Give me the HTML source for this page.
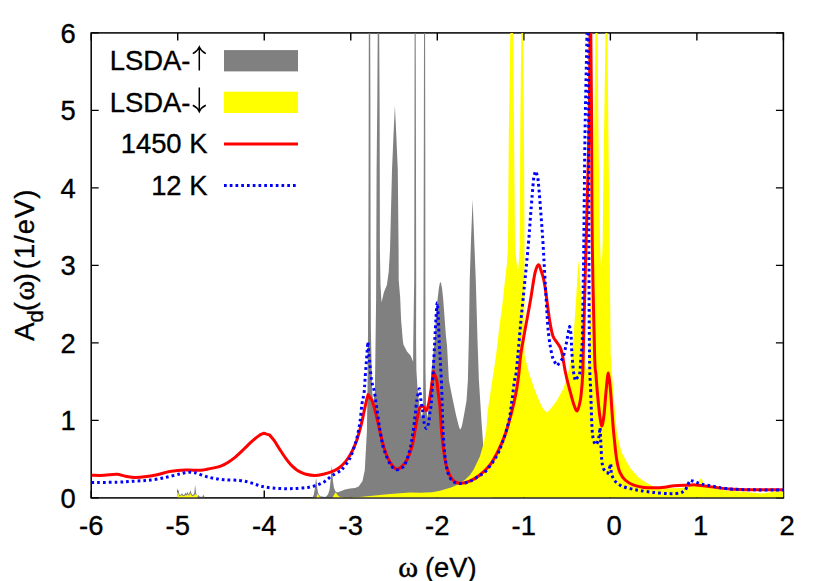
<!DOCTYPE html>
<html><head><meta charset="utf-8"><title>chart</title>
<style>html,body{margin:0;padding:0;background:#fff}svg{display:block}</style></head>
<body>
<svg width="830" height="581" viewBox="0 0 830 581">
<rect width="830" height="581" fill="#fff"/>
<defs><clipPath id="c"><rect x="91.2" y="32.9" width="692.20" height="464.40"/></clipPath></defs>
<path d="M91.20,497.9v-7.5M91.20,32.9v7.5M177.72,497.9v-7.5M177.72,32.9v7.5M264.25,497.9v-7.5M264.25,32.9v7.5M350.77,497.9v-7.5M350.77,32.9v7.5M437.30,497.9v-7.5M437.30,32.9v7.5M523.82,497.9v-7.5M523.82,32.9v7.5M610.35,497.9v-7.5M610.35,32.9v7.5M696.88,497.9v-7.5M696.88,32.9v7.5M783.40,497.9v-7.5M783.40,32.9v7.5M91.2,497.90h7.5M783.4,497.90h-7.5M91.2,420.40h7.5M783.4,420.40h-7.5M91.2,342.90h7.5M783.4,342.90h-7.5M91.2,265.40h7.5M783.4,265.40h-7.5M91.2,187.90h7.5M783.4,187.90h-7.5M91.2,110.40h7.5M783.4,110.40h-7.5M91.2,32.90h7.5M783.4,32.90h-7.5" stroke="#000" stroke-width="1.4" fill="none"/>
<rect x="91.2" y="32.9" width="692.1999999999999" height="465.0" fill="none" stroke="#000" stroke-width="1.5"/>
<g clip-path="url(#c)">
<path d="M176.9,497.9 L177.1,492.0 L177.7,488.2 L178.4,492.0 L179.9,495.2 L181.0,494.6 L182.0,493.3 L183.0,494.6 L183.9,495.2 L184.8,494.0 L185.7,492.6 L186.5,494.2 L187.5,491.5 L188.2,493.5 L188.9,494.6 L189.7,492.5 L190.4,490.0 L191.2,492.8 L192.2,495.0 L193.5,494.6 L194.3,493.0 L194.8,488.0 L195.1,485.0 L195.5,488.0 L196.2,493.6 L197.6,496.5 L198.7,494.9 L199.7,496.8 L202.5,496.8 L203.4,494.5 L204.4,496.8 L205.0,497.9Z M312.3,497.9 L313.8,494.5 L314.8,489.0 L315.5,482.5 L316.1,477.6 L316.7,482.5 L317.4,489.0 L318.3,493.5 L320.0,496.3 L325.5,497.0 L328.0,494.5 L329.6,489.5 L330.6,480.5 L331.2,471.5 L331.7,466.0 L332.3,471.5 L332.9,480.5 L333.9,487.5 L335.2,491.0 L337.0,492.4 L340.0,491.4 L345.0,489.4 L350.0,488.5 L355.0,488.0 L358.7,486.6 L362.5,481.0 L364.8,470.0 L366.9,431.0 L367.5,390.0 L368.0,330.0 L368.4,250.0 L368.6,170.0 L368.7,100.0 L368.8,33.0 L370.2,33.0 L370.4,100.0 L370.6,250.0 L370.9,330.0 L372.1,390.0 L373.2,402.0 L374.9,392.0 L375.7,330.0 L376.1,300.0 L376.3,250.0 L376.6,170.0 L377.3,100.0 L377.7,33.0 L379.2,33.0 L379.6,100.0 L379.8,170.0 L379.9,250.0 L380.5,285.0 L381.5,302.4 L383.9,292.2 L386.9,285.0 L388.7,271.7 L390.0,250.0 L392.0,170.0 L393.5,135.0 L394.9,105.5 L396.3,135.0 L397.8,170.0 L398.6,250.0 L398.7,280.0 L400.2,298.0 L401.1,320.0 L402.8,340.0 L403.4,344.4 L407.0,351.4 L410.7,355.7 L412.8,361.0 L413.1,362.0 L413.3,340.0 L413.8,305.0 L414.2,280.0 L414.4,170.0 L414.5,100.0 L414.6,33.0 L415.7,33.0 L416.0,170.0 L416.2,280.0 L416.1,340.0 L416.4,370.0 L417.5,388.0 L419.5,406.0 L422.0,418.0 L423.1,408.0 L423.2,390.0 L423.5,280.0 L423.8,150.0 L424.0,33.0 L425.1,33.0 L425.3,150.0 L425.4,280.0 L425.5,370.0 L426.1,406.0 L427.5,418.0 L429.1,406.0 L431.5,370.0 L434.8,340.0 L435.8,318.0 L437.6,299.0 L438.9,288.0 L439.8,283.2 L440.4,282.0 L441.1,283.2 L442.0,288.0 L443.2,299.0 L446.0,336.8 L447.0,345.0 L448.9,380.0 L450.8,390.0 L453.0,400.7 L456.0,415.0 L458.4,424.5 L459.5,428.3 L460.3,429.6 L461.1,428.3 L462.2,424.5 L464.0,415.0 L466.5,400.7 L467.9,380.0 L469.0,330.0 L469.7,280.0 L471.0,240.0 L472.6,199.4 L474.2,240.0 L475.8,280.0 L477.5,340.0 L478.9,380.0 L481.5,421.3 L483.0,442.0 L485.0,470.0 L488.0,490.0 L492.0,497.9Z" fill="#808080"/>
<path d="M177.1,497.9 L177.4,491.8 L178.3,493.5 L179.5,496.2 L181.7,495.2 L183.9,496.3 L185.7,495.0 L186.6,495.6 L187.5,494.2 L188.9,495.8 L190.4,493.4 L191.3,495.0 L192.2,496.2 L194.0,495.6 L195.0,494.4 L195.8,493.9 L197.2,495.2 L198.0,497.9Z M316.3,497.9 L317.5,493.4 L319.0,496.0 L320.8,497.9Z M332.3,497.9 L334.0,495.0 L335.6,492.3 L337.5,495.0 L339.5,496.8 L345.0,497.4 L360.0,496.9 L370.0,496.1 L380.0,495.1 L390.0,494.1 L400.0,493.3 L410.0,492.5 L420.0,492.8 L432.0,492.2 L440.0,490.8 L451.0,487.5 L458.0,484.5 L465.4,479.6 L470.0,475.0 L473.7,469.5 L479.9,456.4 L483.2,445.0 L486.1,431.6 L487.6,411.8 L489.2,400.7 L492.3,380.0 L493.3,374.0 L496.1,355.0 L499.0,330.0 L502.7,301.8 L505.0,280.0 L506.9,264.0 L508.0,245.0 L508.8,135.0 L510.3,33.0 L513.1,33.0 L514.1,135.0 L515.0,245.0 L516.5,262.0 L517.9,271.5 L519.2,258.0 L519.8,245.0 L520.2,135.0 L521.3,33.0 L523.2,33.0 L524.0,135.0 L524.5,245.0 L524.5,355.0 L529.2,374.0 L535.9,392.9 L540.0,402.5 L543.0,408.5 L545.0,411.0 L546.6,411.9 L548.3,411.3 L551.0,408.3 L555.8,402.3 L563.3,389.0 L568.0,374.0 L572.0,355.0 L574.0,330.0 L576.0,300.0 L577.5,275.0 L578.5,260.0 L579.8,275.0 L581.3,300.0 L583.0,335.0 L585.0,360.0 L586.8,371.0 L588.3,360.0 L589.5,330.0 L590.5,300.0 L592.0,270.0 L593.3,245.0 L594.2,135.0 L595.5,33.0 L597.6,33.0 L598.5,135.0 L599.4,200.0 L600.2,245.0 L600.8,261.0 L601.3,267.0 L601.9,261.0 L602.6,245.0 L603.1,200.0 L604.0,135.0 L605.5,33.0 L607.5,33.0 L608.4,135.0 L609.7,245.0 L610.7,355.0 L613.7,397.0 L616.8,432.0 L621.4,452.0 L630.2,468.0 L638.0,477.0 L647.5,483.5 L655.0,487.0 L665.0,488.5 L680.0,488.0 L688.0,487.2 L695.0,485.5 L696.8,484.8 L698.4,482.3 L699.8,479.4 L700.9,478.2 L702.0,479.4 L703.4,483.0 L705.0,486.0 L706.5,487.2 L711.0,488.2 L726.4,490.5 L745.7,492.0 L755.0,493.0 L761.0,493.6 L768.0,492.8 L774.6,491.6 L783.5,491.0 L783.5,497.9Z" fill="#ffff00"/>
<path d="M91.5,475.3 C93.6,475.3 100.1,475.5 104.3,475.3 C108.5,475.1 113.3,474.1 116.8,474.3 C120.3,474.5 122.5,475.8 125.5,476.3 C128.6,476.8 131.6,477.4 135.1,477.4 C138.6,477.4 142.8,477.0 146.7,476.5 C150.5,476.0 154.3,475.3 158.2,474.5 C162.0,473.7 165.3,472.3 169.8,471.6 C174.3,470.9 180.1,470.3 185.2,470.1 C190.3,469.9 197.0,470.3 200.6,470.2 C204.2,470.1 204.7,469.7 206.9,469.3 C209.1,468.9 211.5,468.4 213.8,467.9 C216.1,467.4 218.4,467.0 220.7,466.1 C223.0,465.2 225.2,464.1 227.5,462.7 C229.8,461.3 232.1,459.7 234.4,457.9 C236.7,456.1 239.0,453.9 241.3,451.7 C243.6,449.5 245.9,447.0 248.2,444.8 C250.5,442.6 253.3,440.2 255.1,438.6 C256.9,437.0 257.8,436.3 259.2,435.4 C260.6,434.5 262.1,434.0 263.6,433.3 C265.6,433.9 267.6,434.4 269.6,435.0 C271.2,437.0 272.7,438.5 274.4,440.9 C276.1,443.3 278.1,446.8 279.9,449.6 C281.7,452.4 283.6,455.4 285.4,457.9 C287.2,460.4 289.1,462.9 290.9,464.8 C292.7,466.8 294.9,468.4 296.4,469.6 C297.9,470.8 298.4,471.0 300.0,471.8 C301.6,472.6 303.6,473.6 306.0,474.2 C308.4,474.8 311.7,475.4 314.6,475.4 C317.5,475.4 320.4,474.8 323.3,474.2 C326.2,473.6 329.4,472.8 332.0,471.7 C334.6,470.6 336.9,469.4 339.2,467.7 C341.4,466.0 343.5,464.0 345.5,461.6 C347.5,459.2 349.2,456.8 351.0,453.4 C352.8,450.0 354.8,445.8 356.5,441.0 C358.2,436.2 359.9,429.9 361.3,424.4 C362.7,418.9 363.9,412.0 364.8,407.9 C365.7,403.8 366.1,402.2 366.6,400.0 C367.2,397.8 367.6,396.4 368.1,394.6 C368.8,395.7 369.6,396.9 370.3,398.0 C371.0,399.1 371.5,398.9 372.4,401.5 C373.3,404.1 374.6,408.4 375.8,413.4 C377.1,418.4 378.5,425.6 379.9,431.3 C381.3,437.1 382.7,443.3 384.1,447.9 C385.5,452.5 386.7,455.8 388.2,458.9 C389.7,462.0 391.5,464.7 393.0,466.4 C394.5,468.1 395.7,469.2 397.2,469.2 C398.7,469.2 400.3,468.1 402.0,466.4 C403.7,464.7 405.9,462.0 407.5,458.9 C409.1,455.8 410.6,451.0 411.6,447.9 C412.6,444.8 412.6,444.3 413.4,440.0 C414.2,435.7 415.5,427.2 416.5,422.0 C417.5,416.8 418.5,411.3 419.5,408.6 C420.5,405.9 421.7,406.1 422.5,406.0 C423.3,405.9 423.8,407.3 424.5,408.0 C425.2,408.7 425.9,411.4 426.7,410.4 C427.4,409.4 428.3,405.4 429.0,402.0 C429.7,398.6 430.4,393.7 431.0,390.0 C431.6,386.3 432.0,383.1 432.4,380.0 C432.8,376.9 433.2,374.4 433.6,371.6 C434.2,373.1 434.8,374.4 435.3,376.0 C435.9,377.6 436.4,379.3 436.9,381.0 C437.4,385.4 437.9,390.0 438.4,394.2 C438.9,398.4 439.3,399.5 439.9,406.0 C440.4,412.5 440.9,424.2 441.7,433.0 C442.5,441.8 443.8,452.2 444.8,458.5 C445.8,464.8 446.5,467.3 447.9,470.9 C449.3,474.5 450.9,478.1 453.0,480.2 C455.1,482.3 457.5,483.1 460.3,483.3 C463.1,483.5 466.3,482.6 469.6,481.2 C472.9,479.8 476.5,477.8 479.9,475.0 C483.3,472.2 487.1,468.8 490.2,464.7 C493.3,460.6 496.1,455.0 498.5,450.2 C500.9,445.4 502.6,441.6 504.7,435.8 C506.8,430.0 509.0,422.2 510.9,415.1 C512.8,408.0 514.7,399.8 516.0,392.9 C517.3,386.0 518.0,380.3 518.8,374.0 C519.6,367.7 519.7,362.3 520.7,355.0 C521.7,347.7 523.4,338.9 525.0,330.0 C526.6,321.1 528.6,311.2 530.2,301.8 C531.9,292.4 533.5,279.6 534.9,273.4 C536.3,267.2 537.4,265.3 538.4,264.8 C539.4,264.3 540.0,267.5 541.0,270.5 C542.0,273.5 542.9,274.5 544.4,282.9 C545.9,291.3 548.3,312.0 549.7,320.8 C551.1,329.6 551.6,332.1 552.9,335.9 C554.2,339.7 556.4,341.4 557.7,343.5 C559.0,345.6 559.7,346.3 560.5,348.2 C561.3,350.1 561.5,350.7 562.4,355.0 C563.3,359.3 564.4,367.7 565.8,374.0 C567.1,380.3 569.1,387.7 570.5,392.9 C571.9,398.1 572.9,402.0 574.0,405.0 C575.1,408.0 576.2,411.4 577.2,410.9 C578.2,410.4 579.3,405.0 580.0,402.0 C580.7,399.0 580.8,397.6 581.3,392.9 C581.8,388.2 582.4,380.3 582.7,374.0 C583.0,367.7 582.7,376.5 583.2,355.0 C583.8,333.5 585.0,281.7 586.0,245.0 C587.0,208.3 588.2,170.3 588.9,135.0 C589.6,99.7 589.8,50.0 590.0,33.0 M590.8,33.0 C590.9,50.0 591.5,99.7 591.7,135.0 C592.0,170.3 591.8,208.3 592.3,245.0 C592.8,281.7 594.0,333.5 594.6,355.0 C595.2,376.5 595.4,367.7 595.9,374.0 C596.4,380.3 596.8,386.6 597.4,392.9 C598.0,399.2 598.6,406.3 599.3,411.8 C600.0,417.3 600.8,425.5 601.6,426.0 C602.4,426.5 603.3,420.7 604.0,415.0 C604.7,409.3 605.3,399.0 606.0,392.0 C606.7,385.0 607.6,372.9 608.4,373.0 C609.2,373.1 610.1,386.4 610.7,392.9 C611.3,399.4 611.5,405.5 612.0,411.8 C612.5,418.1 612.9,424.5 613.5,430.8 C614.1,437.1 614.8,444.3 615.4,449.7 C616.0,455.1 616.5,459.2 617.3,463.0 C618.0,466.8 618.6,469.5 619.9,472.3 C621.2,475.1 622.8,477.9 625.1,480.0 C627.4,482.1 630.6,484.0 633.7,485.2 C636.9,486.4 640.8,487.0 644.0,487.4 C647.2,487.8 649.6,487.8 653.1,487.8 C656.6,487.8 661.2,487.6 664.7,487.2 C668.2,486.8 670.4,486.0 674.3,485.7 C678.1,485.4 684.3,485.4 687.8,485.3 C691.3,485.2 692.3,484.7 695.5,484.9 C698.7,485.1 703.6,485.9 707.1,486.3 C710.6,486.8 712.9,487.1 716.7,487.6 C720.6,488.1 725.4,488.8 730.2,489.1 C735.0,489.5 739.9,489.6 745.7,489.7 C751.5,489.8 758.6,489.7 764.9,489.7 C771.2,489.7 780.4,489.7 783.5,489.7" fill="none" stroke="#ff0000" stroke-width="3" stroke-linejoin="round"/>
<path d="M91.5,482.6 C95.7,482.5 109.5,482.4 116.8,482.2 C124.1,481.9 129.5,481.5 135.1,481.1 C140.7,480.8 145.4,480.7 150.5,480.1 C155.6,479.5 161.1,478.4 165.9,477.4 C170.7,476.4 176.2,474.8 179.4,474.0 C182.6,473.2 183.3,473.0 185.0,472.7 C186.7,472.4 188.1,472.3 189.6,472.3 C191.1,472.3 192.7,472.4 194.0,472.6 C195.3,472.8 195.8,472.8 197.5,473.4 C199.2,474.0 202.0,475.2 204.5,476.0 C207.0,476.8 209.1,477.4 212.3,478.0 C215.5,478.6 219.2,479.3 223.7,479.7 C228.2,480.1 234.9,479.9 239.5,480.4 C244.1,480.9 247.4,481.9 251.0,482.9 C254.6,483.9 257.5,485.3 261.1,486.2 C264.7,487.1 268.6,487.6 272.7,488.0 C276.8,488.4 281.6,488.6 285.7,488.7 C289.8,488.8 293.4,488.6 297.3,488.4 C301.2,488.1 305.5,487.8 308.9,487.2 C312.3,486.6 314.9,486.0 317.5,485.0 C320.1,484.0 322.4,482.9 324.8,481.4 C327.2,479.8 329.4,477.5 332.0,475.7 C334.6,473.9 338.9,471.8 340.7,470.6 C342.5,469.4 341.3,470.4 342.8,468.5 C344.3,466.6 347.8,462.3 349.6,458.9 C351.4,455.5 352.5,451.6 353.8,447.9 C355.1,444.2 356.2,441.2 357.2,436.8 C358.2,432.4 359.2,427.2 360.0,421.7 C360.8,416.2 361.3,408.6 362.0,403.8 C362.7,399.0 363.6,396.8 364.1,392.8 C364.6,388.8 364.6,385.5 365.0,380.0 C365.4,374.5 366.0,366.3 366.5,360.0 C367.0,353.7 367.4,348.0 367.9,342.0 C368.4,348.0 368.9,353.7 369.5,360.0 C370.1,366.3 370.7,374.7 371.5,380.0 C372.3,385.3 373.6,387.6 374.4,392.0 C375.2,396.4 375.7,400.9 376.5,406.5 C377.3,412.1 378.3,419.4 379.3,425.8 C380.3,432.2 381.6,440.2 382.7,445.1 C383.8,450.0 384.8,451.9 386.0,455.0 C387.2,458.1 388.8,461.8 390.0,464.0 C391.2,466.2 392.3,467.1 393.5,468.0 C394.7,468.9 395.9,469.7 397.2,469.7 C398.4,469.7 399.8,468.8 401.0,468.0 C402.2,467.2 403.3,468.0 404.7,465.1 C406.1,462.2 408.3,455.3 409.6,450.6 C410.9,445.9 411.5,441.6 412.3,436.8 C413.1,432.0 413.7,427.2 414.4,421.7 C415.1,416.2 415.9,407.8 416.4,403.8 C416.9,399.8 416.8,400.3 417.3,397.8 C417.8,395.3 418.9,388.4 419.5,388.8 C420.1,389.2 420.4,396.7 420.9,400.2 C421.4,403.7 422.0,406.4 422.5,410.0 C423.0,413.6 423.4,418.9 424.0,422.0 C424.6,425.1 425.6,428.6 426.4,428.6 C427.2,428.6 428.2,424.8 428.8,422.0 C429.4,419.2 429.6,414.8 430.0,412.0 C430.4,409.2 430.7,409.0 431.1,405.0 C431.5,401.0 431.9,395.0 432.3,388.2 C432.7,381.4 433.2,372.0 433.6,364.0 C434.0,356.0 434.4,347.7 434.8,340.0 C435.2,332.3 435.6,324.2 436.0,318.0 C436.4,311.8 436.8,302.7 437.2,302.7 C437.6,302.7 437.9,311.3 438.3,318.0 C438.7,324.7 438.9,335.3 439.3,343.0 C439.7,350.7 440.1,356.5 440.5,364.0 C440.9,371.5 441.4,380.5 441.7,388.2 C442.0,395.9 442.1,402.8 442.3,410.0 C442.5,417.2 442.7,424.2 443.1,431.6 C443.5,439.0 444.0,447.4 444.8,454.3 C445.6,461.2 446.5,468.4 447.9,472.9 C449.3,477.4 450.9,479.4 453.0,481.2 C455.1,483.0 457.5,483.4 460.3,483.5 C463.1,483.6 466.7,482.7 469.6,481.5 C472.6,480.3 475.2,478.3 478.0,476.5 C480.8,474.7 483.0,474.2 486.1,470.9 C489.2,467.5 493.6,461.2 496.4,456.4 C499.1,451.6 500.5,447.9 502.6,442.0 C504.7,436.1 507.2,428.2 508.8,421.3 C510.4,414.4 510.9,407.6 511.9,400.7 C512.9,393.8 513.9,384.4 514.6,380.0 C515.3,375.6 515.5,378.2 516.0,374.0 C516.5,369.8 517.1,364.0 517.9,355.0 C518.7,346.0 520.0,330.8 521.0,320.0 C522.0,309.2 522.8,302.5 524.0,290.0 C525.2,277.5 527.1,258.3 528.3,245.0 C529.5,231.7 530.1,220.7 531.0,210.0 C531.9,199.3 532.8,187.0 533.4,181.0 C534.0,175.0 534.2,175.6 534.6,174.0 C535.0,172.4 535.3,171.2 535.7,171.2 C536.1,171.2 536.4,172.4 536.8,174.0 C537.2,175.6 537.6,175.0 538.2,181.0 C538.8,187.0 539.8,199.3 540.6,210.0 C541.4,220.7 542.2,229.7 543.1,245.0 C544.0,260.3 545.4,286.9 546.3,301.8 C547.2,316.7 547.6,325.5 548.6,334.4 C549.6,343.3 550.9,350.4 552.0,355.1 C553.1,359.8 554.1,360.8 555.0,362.5 C555.9,364.2 556.5,364.6 557.3,365.6 C559.0,363.2 561.1,361.1 562.4,358.5 C563.7,355.9 564.3,352.9 565.0,350.0 C565.7,347.1 566.1,344.3 566.7,341.3 C567.3,338.3 567.9,334.3 568.4,331.8 C568.9,329.3 569.2,328.3 569.6,326.5 C570.1,329.1 570.6,330.2 571.0,334.4 C571.4,338.6 571.4,345.3 571.8,351.6 C572.2,357.9 573.0,367.5 573.6,372.3 C574.2,377.1 574.7,377.8 575.3,380.6 C575.9,379.7 576.3,379.1 577.0,378.0 C577.7,376.9 578.9,377.5 579.6,374.0 C580.3,370.5 580.5,362.5 581.0,356.8 C581.5,351.1 582.0,349.5 582.3,340.0 C582.6,330.5 582.8,315.8 583.0,300.0 C583.2,284.2 583.5,272.5 583.8,245.0 C584.1,217.5 584.5,170.3 585.0,135.0 C585.5,99.7 586.7,50.0 587.0,33.0 M588.5,33.0 C588.5,50.0 588.6,99.7 588.7,135.0 C588.8,170.3 588.8,208.3 588.9,245.0 C589.0,281.7 589.2,330.4 589.5,355.0 C589.8,379.6 590.4,381.1 590.8,392.9 C591.2,404.7 591.5,418.2 591.9,425.8 C592.3,433.4 592.6,435.6 593.2,438.7 C593.9,441.8 594.9,444.5 595.8,444.7 C596.7,444.9 597.6,441.6 598.5,440.0 C599.0,435.8 599.6,431.7 600.1,427.5 C600.4,433.8 600.7,440.2 601.0,446.5 C601.3,451.1 601.4,456.5 601.8,460.2 C602.2,463.9 602.6,466.6 603.6,468.8 C604.6,471.0 606.5,471.7 607.9,473.1 C608.9,470.0 609.8,466.8 610.8,463.7 C611.0,467.1 611.1,470.6 611.3,474.0 C612.5,476.3 613.1,478.9 614.8,480.9 C616.5,482.9 619.0,484.7 621.6,486.0 C624.2,487.3 627.2,487.9 630.2,488.6 C633.2,489.4 635.8,489.9 639.6,490.5 C643.4,491.1 648.3,491.9 653.1,492.4 C657.9,492.9 664.0,493.5 668.5,493.6 C673.0,493.7 677.3,493.6 680.1,493.0 C682.9,492.4 683.7,491.2 685.5,490.3 C686.3,488.4 687.0,486.2 687.8,484.5 C688.6,482.8 689.5,481.5 690.3,480.0 C692.0,480.7 693.7,481.3 695.5,482.0 C697.3,482.7 698.4,483.3 701.3,484.0 C704.2,484.7 708.7,485.5 712.9,486.3 C717.1,487.1 720.9,488.0 726.4,488.6 C731.9,489.2 736.2,489.4 745.7,489.7 C755.2,489.9 777.2,490.0 783.5,490.1" fill="none" stroke="#0000ff" stroke-width="3" stroke-dasharray="2.7 3.05" stroke-linejoin="round"/>
</g>
<rect x="224" y="50.1" width="74" height="21.3" fill="#808080"/>
<rect x="224" y="91.7" width="74" height="21.3" fill="#ffff00"/>
<path d="M224,144H298" stroke="#ff0000" stroke-width="3"/>
<path d="M224,185.6H296.2" stroke="#0000ff" stroke-width="3" stroke-dasharray="2.7 3.05"/>
<g font-family="'Liberation Sans', sans-serif" font-size="27.4" fill="#000" stroke="#000" stroke-width="0.35">
<text x="190.5" y="69.9" text-anchor="end">LSDA-</text>
<text x="190.5" y="111.6" text-anchor="end">LSDA-</text>
<text x="207.5" y="153.4" text-anchor="end">1450 K</text>
<text x="207.5" y="195" text-anchor="end">12 K</text>
<text x="91.2" y="534.5" text-anchor="middle">-6</text>
<text x="177.7" y="534.5" text-anchor="middle">-5</text>
<text x="264.2" y="534.5" text-anchor="middle">-4</text>
<text x="350.8" y="534.5" text-anchor="middle">-3</text>
<text x="437.3" y="534.5" text-anchor="middle">-2</text>
<text x="523.8" y="534.5" text-anchor="middle">-1</text>
<text x="614.1" y="534.5" text-anchor="middle">0</text>
<text x="700.7" y="534.5" text-anchor="middle">1</text>
<text x="787.2" y="534.5" text-anchor="middle">2</text>
<text x="75.8" y="507.8" text-anchor="end">0</text>
<text x="75.8" y="430.3" text-anchor="end">1</text>
<text x="75.8" y="352.8" text-anchor="end">2</text>
<text x="75.8" y="275.3" text-anchor="end">3</text>
<text x="75.8" y="197.8" text-anchor="end">4</text>
<text x="75.8" y="120.3" text-anchor="end">5</text>
<text x="75.8" y="42.8" text-anchor="end">6</text>
<text x="398.3" y="576.7" font-family="'Liberation Serif', serif" font-size="30.1" stroke-width="0.5">ω</text><text x="425.0" y="576.7">(eV)</text>
<text transform="translate(33.8,340.7) rotate(-90)">A<tspan dy="9" font-size="21.9">d</tspan><tspan dy="-9" dx="-1">(</tspan><tspan font-family="'Liberation Serif', serif" font-size="30.1" stroke-width="0.5" dx="1.6">ω</tspan><tspan font-size="27.4" dx="-1.6">)</tspan><tspan font-size="27.4" dx="-4.6" letter-spacing="1"> (1/eV)</tspan></text>
</g>
<path d="M199.3,70.4V47.8 M192.8,53.6 Q197.4,51.4 199.3,47 Q201.2,51.4 205.8,53.6" fill="none" stroke="#000" stroke-width="1.5"/>
<path d="M199.3,87.5V110.8 M192.8,105.2 Q197.4,107.4 199.3,111.6 Q201.2,107.4 205.8,105.2" fill="none" stroke="#000" stroke-width="1.5"/>
</svg>
</body></html>
